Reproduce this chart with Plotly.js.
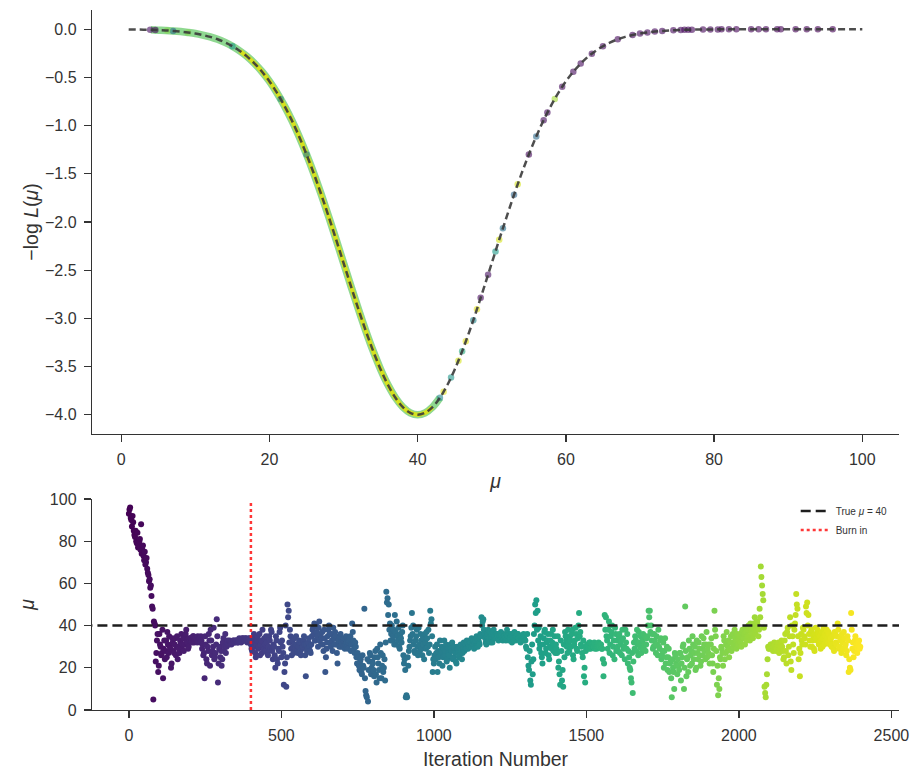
<!DOCTYPE html>
<html><head><meta charset="utf-8">
<script src="https://cdn.plot.ly/plotly-3.0.1.min.js"></script>
<style>html,body{margin:0;padding:0;background:#fff}#chart{width:919px;height:781px}</style>
</head><body><div id="chart"></div>
<script>
// dashed likelihood curve (mu = 1..100)
const curveMu = [1,2,3,4,5,6,7,8,9,10,11,12,13,14,15,16,17,18,19,20,21,22,23,24,25,26,27,28,29,30,31,32,33,34,35,36,37,38,39,40,41,42,43,44,45,46,47,48,49,50,51,52,53,54,55,56,57,58,59,60,61,62,63,64,65,66,67,68,69,70,71,72,73,74,75,76,77,78,79,80,81,82,83,84,85,86,87,88,89,90,91,92,93,94,95,96,97,98,99,100];
const curveNegLogL = [-0.002,-0.003,-0.004,-0.006,-0.009,-0.012,-0.017,-0.024,-0.033,-0.044,-0.060,-0.079,-0.104,-0.136,-0.176,-0.225,-0.284,-0.356,-0.441,-0.541,-0.658,-0.792,-0.943,-1.112,-1.299,-1.501,-1.718,-1.947,-2.184,-2.426,-2.668,-2.905,-3.131,-3.341,-3.530,-3.692,-3.824,-3.921,-3.980,-4.000,-3.980,-3.921,-3.824,-3.692,-3.530,-3.341,-3.131,-2.905,-2.668,-2.426,-2.184,-1.947,-1.718,-1.501,-1.299,-1.112,-0.943,-0.792,-0.658,-0.541,-0.441,-0.356,-0.284,-0.225,-0.176,-0.136,-0.104,-0.079,-0.060,-0.044,-0.033,-0.024,-0.017,-0.012,-0.009,-0.006,-0.004,-0.003,-0.002,-0.001,-0.001,-0.001,0,0,0,0,0,0,0,0,0,0,0,0,0,0,0,0,0,0];

// MCMC trace, read every 4 iterations starting at iteration 0 ...
const traceStep = 4;
const traceMuA = [
93,96,90,92,85,82,80,84,78,81,88,76,73,75,70,67,64,62,59,49,5,41,23,33,18,
36,30,27,15,33,28,25,31,35,29,22,32,27,34,30,24,29,33,36,31,28,34,38,32,30,
33,34,32,35,33,34,32,33,34,35,29,26,15,31,22,28,33,38,26,30,24,27,43,13,29,
25,21,32,28,36,30,33,31,32,31,32,33,32,33,32,33,33,32,34,33,33,34,32,33,34,
31,28,34,30,25,33,29,36,31,27,30,34,28,32,26,35,29,37,24,30,20,33,22,28,39,
25,30,12,22,11,50,47,38,29,33,27,31,35,28,30,32,26,29,33,31,16,28,32,30,27,
35,39,41,33,37,30,42,36,34,31,38,18,29,35,40,32,36,28,34,37,31,22,33,35,30,
31,33,29,35,30,32,34,28,41,33,27,30,22,25,19,24,17,21,48,9,6,4,23,26,20,
22,16,28,13,25,19,31,15,26,20,14,56,53,50,41,36,33,38,45,31,35,39,29,34,37,
26,24,6,6,21,30,35,46,40,28,33,38,26,31,36,29,34,24,32,37,30,27,47,43,18,
22,30,27,18,25,33,28,21,29,26,31,24,27,20,29,32,25,28,23,30,27,26,31,24,29,
28,31,33,29,30,32,34,31,29,33,35,30,32,36,44,42,38,34,31,36,33,37,35,32,38,
35,34,36,33,35,37,34,36,35,33,38,34,36,35,32,34,37,33,35,36,34,32,35,33,34,
33,29,25,19,14,23,17,36,50,52,47,39,31,27,22,34,38,29,33,26,30,36,32,28,35,
31,27,20,17,33,14,11,25,35,30,38,28,33,36,26,31,39,29,34,46,37,30,25,16,13,
30,31,29,32,30,31,30,29,31,30,32,30,31,29,16,45,44,33,38,27,35,40,30,24,36,
33,28,36,31,26,34,30,38,29,22,25,19,13,8,32,35,28,31,37,30,27,33,29,35,31,
35,47,47,40,36,30,33,27,31,38,29,34,26,32,28,22,30,25,18,23,6,20,10,26,21,
24,19,27,22,30,10,49,16,25,33,21,28,35,24,30,20,27,32,26,23,29,34,28,31,25,
27,22,31,26,18,47,35,12,7,10,24,29,21,33,27,37,30,25,32,28,36,31,34,29,33,
33,36,30,38,34,31,37,35,40,33,39,36,41,44,38,42,35,48,68,59,52,11,6,17,30,
29,31,30,28,32,30,29,31,27,30,33,28,25,36,22,39,30,44,19,35,27,41,55,48,24,
16,36,31,38,34,49,51,45,33,37,30,35,28,39,33,36,32,29,37,34,31,35,38,32,36,
33,30,35,28,36,31,41,29,34,27,32,37,30,26,35,18,20,46,29,25,33,30,27,31,29];
// ... and every 4 iterations starting at iteration 2
const traceMuB = [
95,91,87,89,83,85,79,77,80,76,74,78,71,69,72,65,61,58,54,48,42,40,27,36,21,
31,26,38,29,24,33,37,27,30,20,34,28,31,26,35,30,27,32,29,34,31,36,33,29,34,
34,33,35,32,34,33,35,34,32,33,31,27,35,24,30,36,21,33,28,39,25,31,35,22,30,
28,24,34,30,27,32,31,33,32,32,33,32,33,33,32,34,33,33,34,33,34,33,33,34,33,
29,32,36,27,31,35,30,26,33,38,29,31,35,27,30,33,38,28,31,26,35,24,29,37,32,
33,27,18,40,25,44,32,35,26,30,34,29,31,27,33,28,32,30,35,26,31,29,34,28,31,
38,36,33,40,35,39,33,31,37,28,34,25,32,38,36,30,33,39,31,35,27,33,30,36,32,
30,34,31,32,29,33,35,31,37,29,32,25,27,21,23,18,26,20,15,7,24,19,27,17,23,
19,25,17,29,22,15,27,21,18,24,32,51,45,38,33,40,35,31,37,42,33,30,36,32,40,
22,19,7,25,28,33,39,36,31,27,35,30,39,28,33,26,31,36,29,34,38,31,41,35,24,
26,24,31,28,22,27,30,25,33,28,23,29,26,31,28,24,30,27,22,29,25,30,28,27,32,
30,29,32,31,33,30,31,33,32,30,34,33,31,35,40,43,36,32,35,38,34,32,36,37,34,
34,36,35,34,36,35,33,35,34,36,35,33,34,36,35,33,34,35,36,34,33,35,34,36,33,
30,36,21,28,12,31,24,40,46,38,33,29,35,25,31,37,27,32,36,24,33,29,38,31,27,
29,35,23,12,28,19,31,37,33,27,32,35,30,38,24,33,36,28,40,35,31,27,33,20,28,
31,30,32,29,31,30,32,30,29,31,30,31,29,24,22,38,35,29,42,31,37,26,33,39,28,
30,35,27,33,38,29,24,32,36,28,20,15,27,23,29,33,38,26,32,35,29,36,31,28,34,
40,44,37,33,29,36,31,35,26,30,33,24,28,20,34,25,19,29,22,15,24,18,27,22,17,
21,27,14,25,31,20,28,24,18,29,26,22,31,27,19,33,24,29,21,35,26,31,24,37,29,
31,26,34,22,29,38,28,21,15,25,30,27,35,24,31,28,33,29,35,32,30,38,33,36,31,
35,32,37,34,36,39,33,38,35,41,37,34,39,36,42,40,38,44,63,55,39,8,12,24,29,
30,31,29,30,31,28,30,32,29,31,30,24,33,28,37,26,35,23,40,31,38,45,50,35,29,
27,33,39,35,31,46,40,36,30,38,33,29,36,34,38,31,35,33,30,39,36,33,34,37,31,
34,31,29,37,32,35,38,30,33,36,29,34,31,28,33,24,19,38,32,28,35,31,29,33,30];

// samples visible along the curve in the top panel
const topMu = [3.9,4.6,6.2,7,9,15,21.5,25,43,43.5,44.5,45.5,46,46.5,47.5,48,48.5,49.5,50.5,51,51.5,53,53.5,55,56,57,57.5,58.5,59.5,61,62,63.5,65,67,69,70,71,72,73,74.5,75.5,76,76.5,77,78.5,79.5,80.5,81,82,83,85,86,87,88.5,89,91,92.5,94,96];
const topNegLogL = [-0.006,-0.008,-0.012,-0.017,-0.033,-0.176,-0.723,-1.299,-3.824,-3.762,-3.615,-3.439,-3.341,-3.238,-3.019,-2.905,-2.787,-2.547,-2.305,-2.184,-2.065,-1.718,-1.608,-1.299,-1.112,-0.943,-0.865,-0.723,-0.597,-0.441,-0.356,-0.253,-0.176,-0.104,-0.060,-0.044,-0.033,-0.024,-0.017,-0.010,-0.008,-0.006,-0.005,-0.004,-0.003,-0.002,-0.002,-0.001,-0.001,-0.001,0,0,0,0,0,0,0,0,0];
const topIter = [80,60,1950,900,1950,1300,1100,1000,1100,2300,1250,2250,1500,2300,1100,2300,60,100,1300,2250,900,800,2250,40,850,70,60,2075,70,65,60,62,64,58,55,54,52,50,50,48,45,44,42,40,35,33,30,28,25,22,18,16,14,12,10,8,6,4,2];

const trueMu = 40;
const burnIn = 400;
const topXTicks = [0,20,40,60,80,100];
const topYTicks = [-4,-3.5,-3,-2.5,-2,-1.5,-1,-0.5,0];
const topYLabels = ['−4.0','−3.5','−3.0','−2.5','−2.0','−1.5','−1.0','−0.5','0.0'];
const botXTicks = [0,500,1000,1500,2000,2500];
const botYTicks = [0,20,40,60,80,100];
const nIter = 2400;

const iters = [], traceMu = [];
traceMuA.forEach((v,i)=>{
  iters.push(i*traceStep); traceMu.push(v);
  iters.push(i*traceStep+2); traceMu.push(traceMuB[i]);
});

const bandGreenMu = [], bandGreenY = [], bandYelMu = [], bandYelY = [];
curveMu.forEach((m,i)=>{
  if (m>=4 && m<=43){bandGreenMu.push(m);bandGreenY.push(curveNegLogL[i]);}
  if (m>=16 && m<=42){bandYelMu.push(m);bandYelY.push(curveNegLogL[i]);}
});

const ord = topIter.map((v,i)=>i).sort((a,b)=>topIter[a]-topIter[b]);

const traces = [
  {x:bandGreenMu,y:bandGreenY,mode:'lines',line:{color:'#5fc862',width:7.5,shape:'spline'},opacity:0.7,showlegend:false,hoverinfo:'skip',xaxis:'x',yaxis:'y'},
  {x:bandYelMu,y:bandYelY,mode:'lines',line:{color:'#d9e21a',width:4.5,shape:'spline'},opacity:0.95,showlegend:false,hoverinfo:'skip',xaxis:'x',yaxis:'y'},
  {x:ord.map(i=>topMu[i]),y:ord.map(i=>topNegLogL[i]),mode:'markers',
   marker:{size:6.5,color:ord.map(i=>topIter[i]),colorscale:'Viridis',cmin:0,cmax:nIter,opacity:0.6,line:{width:0}},
   showlegend:false,xaxis:'x',yaxis:'y'},
  {x:curveMu,y:curveNegLogL,mode:'lines',line:{color:'#3a3a3a',width:2.5,dash:'7px,4px',shape:'spline'},opacity:0.9,showlegend:false,xaxis:'x',yaxis:'y'},
  {x:iters,y:traceMu,mode:'markers',
   marker:{size:6,color:iters,colorscale:'Viridis',cmin:0,cmax:nIter,line:{width:0}},
   showlegend:false,xaxis:'x2',yaxis:'y2'},
  {x:[-300,2800],y:[trueMu,trueMu],mode:'lines',name:'True <i>μ</i> = 40',
   line:{color:'#1e1e1e',width:2.5,dash:'10px,5px'},xaxis:'x2',yaxis:'y2'},
  {x:[burnIn,burnIn],y:[0,99],mode:'lines',name:'Burn in',
   line:{color:'rgba(255,20,20,0.85)',width:2.5,dash:'3px,3px'},xaxis:'x2',yaxis:'y2'}
];

const axCol = '#333333';
const fontFam = '"Liberation Sans", Arial, sans-serif';
const baseAx = {showline:true,linecolor:axCol,linewidth:1.25,ticks:'outside',ticklen:7,tickwidth:1.25,
  tickcolor:axCol,showgrid:false,zeroline:false,mirror:false,tickfont:{size:16,color:axCol,family:fontFam}};

const layout = {
  width:919,height:781,
  margin:{l:92,r:20,t:10,b:71},
  paper_bgcolor:'#fff',plot_bgcolor:'#fff',
  font:{family:fontFam,color:axCol},
  showlegend:true,
  legend:{x:0.872,y:0.305,xanchor:'left',yanchor:'top',font:{size:10,color:axCol},bgcolor:'rgba(0,0,0,0)',itemwidth:30,tracegroupgap:0},
  xaxis:Object.assign({},baseAx,{domain:[0,1],anchor:'y',range:[-3.95,104.95],tickvals:topXTicks,ticklabelstandoff:4,
    title:{text:'<i>μ</i>',font:{size:19.5,color:axCol},standoff:7}}),
  yaxis:Object.assign({},baseAx,{domain:[0.3943,1],anchor:'x',range:[-4.2,0.2],tickvals:topYTicks,ticktext:topYLabels,ticklabelstandoff:4,
    title:{text:'−log <i>L</i>(<i>μ</i>)',font:{size:19.5,color:axCol},standoff:1}}),
  xaxis2:Object.assign({},baseAx,{domain:[0,1],anchor:'y2',range:[-121,2525],tickvals:botXTicks,ticklabelstandoff:4,
    title:{text:'Iteration Number',font:{size:19.5,color:axCol},standoff:9}}),
  yaxis2:Object.assign({},baseAx,{domain:[0,0.3014],anchor:'x2',range:[0,100],tickvals:botYTicks,ticklabelstandoff:4,
    title:{text:'<i>μ</i>',font:{size:19.5,color:axCol},standoff:10}})
};

Plotly.newPlot('chart',traces,layout,{displayModeBar:false,staticPlot:true});
</script>
</body></html>
